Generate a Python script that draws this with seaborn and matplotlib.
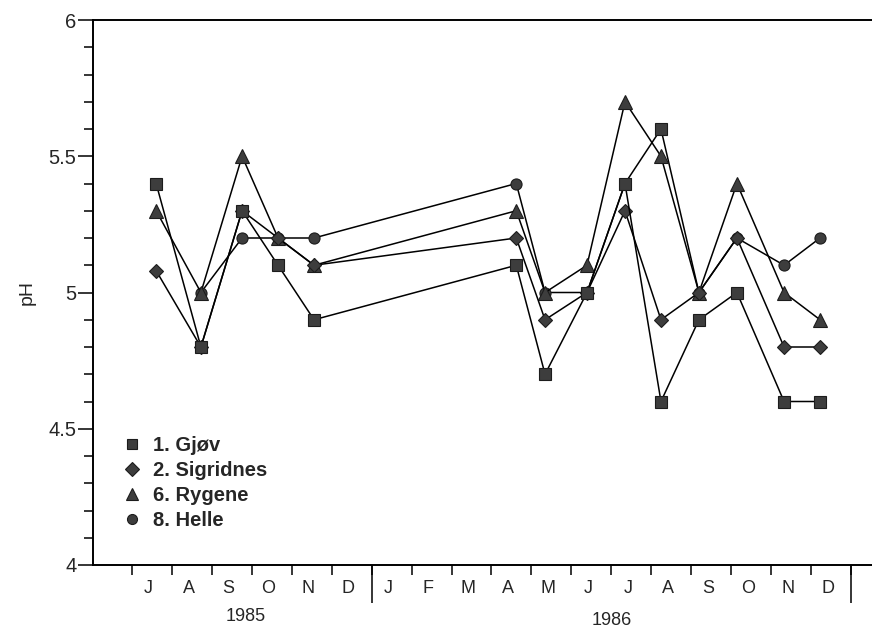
import numpy as np
import pandas as pd
import matplotlib
matplotlib.use("Agg")
import matplotlib.pyplot as plt
import seaborn as sns
from matplotlib.ticker import FixedLocator, FixedFormatter, NullFormatter, MultipleLocator
from matplotlib.transforms import blended_transform_factory

# --- data ---
# sampling time in months since 1 July 1985 (Jul-Nov 1985, Apr-Dec 1986)
sample_month = [0.61, 1.73, 2.76, 3.66, 4.56,
                9.62, 10.34, 11.39, 12.34, 13.24, 14.19, 15.14, 16.32, 17.22]

stations = ["1. Gjøv", "2. Sigridnes", "6. Rygene", "8. Helle"]
gjov      = [5.40, 4.80, 5.30, 5.10, 4.90, 5.10, 4.70, 5.00, 5.40, 4.60, 4.90, 5.00, 4.60, 4.60]
sigridnes = [5.08, 4.80, 5.30, 5.20, 5.10, 5.20, 4.90, 5.00, 5.30, 4.90, 5.00, 5.20, 4.80, 4.80]
rygene    = [5.30, 5.00, 5.50, 5.20, 5.10, 5.30, 5.00, 5.10, 5.70, 5.50, 5.00, 5.40, 5.00, 4.90]
helle     = [np.nan, 5.00, 5.20, 5.20, 5.20, 5.40, 5.00, 5.00, 5.40, 5.60, 5.00, 5.20, 5.10, 5.20]

month_letters = ["J", "A", "S", "O", "N", "D",
                 "J", "F", "M", "A", "M", "J", "J", "A", "S", "O", "N", "D"]
years = ["1985", "1986"]

df = pd.DataFrame({"month": sample_month, stations[0]: gjov, stations[1]: sigridnes,
                   stations[2]: rygene, stations[3]: helle})
df = df.melt(id_vars="month", var_name="station", value_name="pH").dropna()

# --- plot ---
sns.set_style("ticks")
plt.rcParams["font.family"] = ["Liberation Sans", "DejaVu Sans"]

fig = plt.figure(figsize=(8.72, 6.34), dpi=100)
ax = fig.add_axes([93 / 872, 69 / 634, 779 / 872, 545 / 634])

markers = {"1. Gjøv": "s", "2. Sigridnes": "D", "6. Rygene": "^", "8. Helle": "o"}
msize = {"s": 8.5, "D": 7.5, "^": 9.5, "o": 8}
face = "#3d3d3d"
edge = "#1c1c1c"

sns.lineplot(data=df, x="month", y="pH", hue="station", style="station",
             hue_order=stations, style_order=stations,
             palette=["black"] * 4, markers=markers, dashes=False,
             errorbar=None, linewidth=1.1, ax=ax,
             markerfacecolor=face, markeredgecolor=edge, markeredgewidth=0.8)

# Helle drawn at the bottom, Gjøv on top (as in the original)
for i, line in enumerate(ax.lines[:4]):
    line.set_zorder(10 - i)
    line.set_markersize(msize[line.get_marker()])

# Helle's Aug 1986 point is printed with a square marker in the original
odd_idx = 9
ax.plot(sample_month[odd_idx], helle[odd_idx], marker="s", ms=msize["s"], color=face,
        mec=edge, mew=0.8, zorder=20)

# legend: markers only, bold text
leg = ax.get_legend()
handles = leg.legend_handles
labels = [t.get_text() for t in leg.get_texts()]
for h in handles:
    h.set_linestyle("None")
    h.set_markerfacecolor(face)
    h.set_markeredgecolor(edge)
    h.set_markersize(msize[h.get_marker()] * 0.9)
ax.legend(handles, labels, loc="lower left", bbox_to_anchor=(0.027, 0.05),
          frameon=False, handlelength=1.0, handletextpad=0.55, labelspacing=0.3,
          borderaxespad=0, prop={"weight": "bold", "size": 14.5})

# axes
ax.set_ylim(4, 6)
ax.set_xlim(-0.97, 18.52)
ax.yaxis.set_major_locator(MultipleLocator(0.5))
ax.yaxis.set_minor_locator(MultipleLocator(0.1))
ax.yaxis.set_major_formatter(matplotlib.ticker.FuncFormatter(lambda v, p: f"{v:g}"))
ax.tick_params(axis="y", which="major", direction="out", length=10.5, width=1.1,
               labelsize=14.5, pad=1.5, color="black")
ax.tick_params(axis="y", which="minor", direction="out", length=6.5, width=1.1, color="black")

ax.xaxis.set_major_locator(FixedLocator(range(19)))
ax.xaxis.set_major_formatter(NullFormatter())
ax.xaxis.set_minor_locator(FixedLocator(np.arange(18) + 0.42))
ax.xaxis.set_minor_formatter(FixedFormatter(month_letters))
ax.tick_params(axis="x", which="major", direction="out", length=7.5, width=1.1, color="black")
ax.tick_params(axis="x", which="minor", length=0, pad=11, labelsize=13)

# longer ticks at the year boundaries
trans = blended_transform_factory(ax.transData, ax.transAxes)
ax.vlines([6, 18], 0, -0.07, transform=trans, clip_on=False, color="black", lw=1.1)

# year labels
ax.text(2.85, -0.094, years[0], transform=trans, ha="center", va="center", fontsize=13)
ax.text(12.0, -0.101, years[1], transform=trans, ha="center", va="center", fontsize=13)

ax.set_xlabel("")
ax.set_ylabel("pH", fontsize=14, labelpad=9)

for side in ["left", "bottom", "top"]:
    ax.spines[side].set_linewidth(1.4)
    ax.spines[side].set_color("black")
ax.spines["right"].set_visible(False)

fig.savefig("out.png", dpi=100)
